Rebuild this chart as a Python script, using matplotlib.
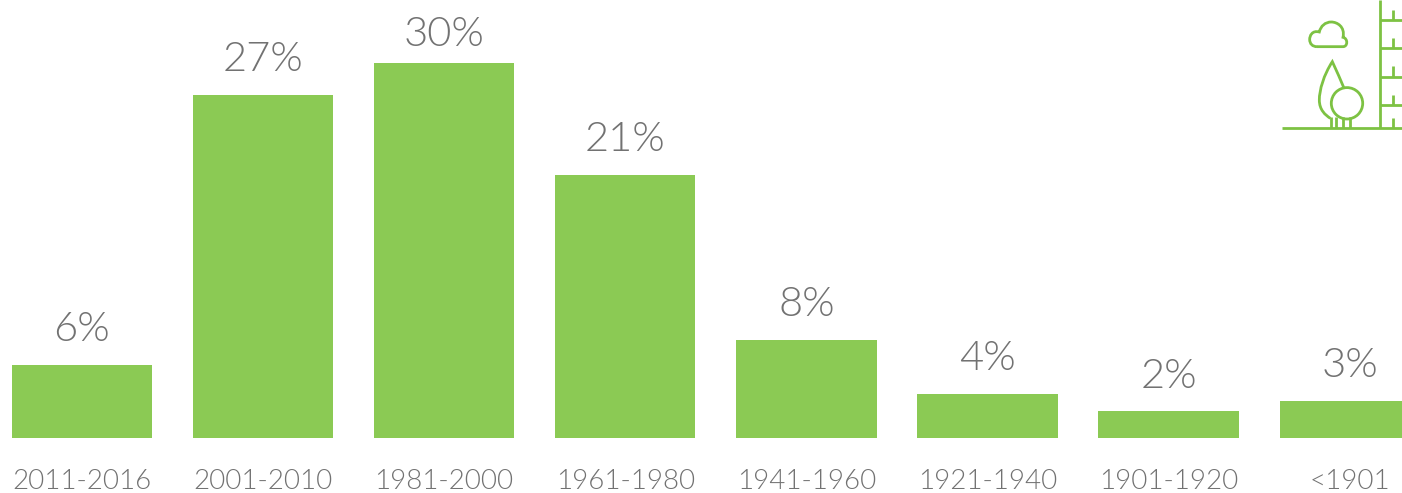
import matplotlib
matplotlib.use("Agg")
import matplotlib.pyplot as plt
from matplotlib.path import Path
from matplotlib.patches import PathPatch, Circle

categories = ["2011-2016", "2001-2010", "1981-2000", "1961-1980",
              "1941-1960", "1921-1940", "1901-1920", "<1901"]
bar_heights = [5.85, 27.45, 30.0, 21.05, 7.85, 3.55, 2.15, 3.0]
labels = ["6%", "27%", "30%", "21%", "8%", "4%", "2%", "3%"]

BAR = "#8BCA54"
ICON = "#7DC243"
TEXT = "#727272"
W, H = 1402, 493
BASE = 438
STEP = 181.15
X0 = 81.8
SCALE = 12.5

plt.rcParams["font.family"] = ["Lato", "DejaVu Sans"]
plt.rcParams["font.weight"] = 300

fig = plt.figure(figsize=(W / 100, H / 100), dpi=100)
ax = fig.add_axes([0, (H - BASE) / H, 1, BASE / H])
ax.set_xlim(-X0 / STEP, (W - X0) / STEP)
ax.set_ylim(0, BASE / SCALE)
xs = list(range(len(categories)))
ax.bar(xs, bar_heights, width=140.5 / STEP, color=BAR, linewidth=0)
for s in ax.spines.values():
    s.set_visible(False)
ax.set_yticks([])
ax.set_xticks(xs, categories)
ax.tick_params(axis="x", length=0, pad=22.5, labelsize=20, labelcolor=TEXT)

for x, h, lab in zip(xs, bar_heights, labels):
    gap = 12 if lab == "30%" else 17
    ax.annotate(lab, (x, h), xytext=(0, gap), textcoords="offset points",
                ha="center", va="baseline", fontsize=30, color=TEXT)

# Decorative icon, drawn in pixel coordinates
ic = fig.add_axes([0, 0, 1, 1], facecolor="none")
ic.set_xlim(0, W)
ic.set_ylim(H, 0)
ic.axis("off")
lw = 2.0
style = dict(color=ICON, lw=lw, solid_capstyle="butt")
ic.plot([1282, 1402], [128, 128], **style)
ic.plot([1379.5, 1379.5], [0, 128], **style)
for y in [20, 48, 77, 105]:
    ic.plot([1380, 1402], [y, y], **style)
for y0, y1 in [(10, 20), (38, 48), (66, 77), (95, 105), (118, 128)]:
    ic.plot([1393, 1393], [y0, y1], **style)
for x in [1330.5, 1336, 1343, 1349.5]:
    ic.plot([x, x], [116.5, 128], **style)
ic.add_patch(Circle((1347, 103.3), 15.7, fill=False, ec=ICON, lw=lw))


def z(px, py):
    return (1262 + px / 3, py / 3)


tree = Path(
    [z(245, 262), z(232, 230), z(211, 185),
     z(185, 225), z(172, 270), z(172, 300),
     z(172, 330), z(190, 345), z(205, 355)],
    [Path.MOVETO, Path.CURVE3, Path.CURVE3,
     Path.CURVE4, Path.CURVE4, Path.CURVE4,
     Path.CURVE4, Path.CURVE4, Path.CURVE4],
)
ic.add_patch(PathPatch(tree, fill=False, ec=ICON, lw=lw))

cloud = Path(
    [z(165, 140), z(243, 140),
     z(258, 140), z(258, 115), z(243, 112),
     z(250, 80), z(225, 66), z(208, 66),
     z(190, 66), z(176, 78), z(172, 96),
     z(150, 90), z(143, 108), z(143, 118),
     z(143, 132), z(152, 140), z(165, 140)],
    [Path.MOVETO, Path.LINETO,
     Path.CURVE4, Path.CURVE4, Path.CURVE4,
     Path.CURVE4, Path.CURVE4, Path.CURVE4,
     Path.CURVE4, Path.CURVE4, Path.CURVE4,
     Path.CURVE4, Path.CURVE4, Path.CURVE4,
     Path.CURVE4, Path.CURVE4, Path.CURVE4],
)
ic.add_patch(PathPatch(cloud, fill=False, ec=ICON, lw=lw))

fig.savefig("out.png", dpi=100, facecolor="white")
